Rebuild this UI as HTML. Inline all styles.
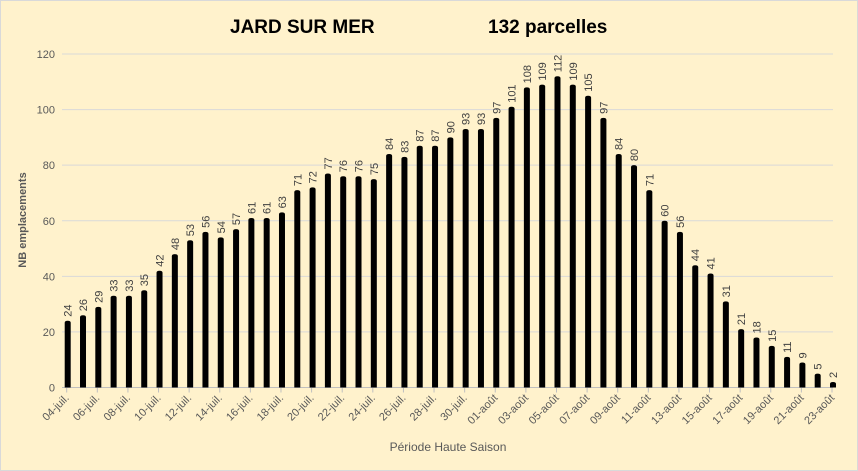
<!DOCTYPE html>
<html><head><meta charset="utf-8"><style>
body{margin:0;background:#fff2cc;}
svg{display:block;font-family:"Liberation Sans",sans-serif;}
</style></head><body>
<svg id="c" width="858" height="471" viewBox="0 0 858 471">
<rect x="0.5" y="0.5" width="857" height="470" fill="#fff2cc" stroke="#d9d9d9"/>
<text x="230" y="33" font-size="19" font-weight="bold">JARD SUR MER</text>
<text x="488" y="33" font-size="19" font-weight="bold">132 parcelles</text>
<text transform="translate(26,220) rotate(-90)" text-anchor="middle" font-size="11" font-weight="bold" fill="#595959">NB emplacements</text>
<text x="448" y="451" text-anchor="middle" font-size="12" fill="#595959">Période Haute Saison</text>
<g id="grid"></g><g id="bars"></g><g id="xl"></g>
</svg>
<script>
const categories=[];
for(let d=4;d<=31;d++)categories.push(String(d).padStart(2,'0')+'-juil.');
for(let d=1;d<=23;d++)categories.push(String(d).padStart(2,'0')+'-août');
const values=[24,26,29,33,33,35,42,48,53,56,54,57,61,61,63,71,72,77,76,76,75,84,83,87,87,90,93,93,97,101,108,109,112,109,105,97,84,80,71,60,56,44,41,31,21,18,15,11,9,5,2];
const yTicks=[0,20,40,60,80,100,120];
const NS='http://www.w3.org/2000/svg';
const x0=66.7,x1=832,yBase=387.5,yTop=54;
const y=v=>yBase-(v/120)*(yBase-yTop);
const x=i=>x0+i*(x1-x0)/(categories.length-1);
function mk(t,a,p){const e=document.createElementNS(NS,t);for(const k in a)e.setAttribute(k,a[k]);p.appendChild(e);return e;}
const grid=document.getElementById('grid'),bars=document.getElementById('bars'),xl=document.getElementById('xl');
yTicks.forEach(t=>{
  const l=mk('line',{x1:62,x2:833,y1:y(t),y2:y(t),stroke:t?'#d9d9d9':'#bfbfbf','stroke-width':1},grid);
  
  
  const tx=mk('text',{x:55,y:y(t)+4,'text-anchor':'end','font-size':11,fill:'#595959'},grid);
  tx.textContent=t;
  
  
});
values.forEach((v,i)=>{
  const cx=x(i)+1,w=6,top=y(v);
  const b=mk('path',{d:`M${cx-w/2},${yBase} V${top+2} Q${cx-w/2},${top} ${cx},${top} Q${cx+w/2},${top} ${cx+w/2},${top+2} V${yBase} Z`,fill:'#000'},bars);
  
  
  const t=mk('text',{transform:`translate(${cx+4},${top-4}) rotate(-90)`,'font-size':11,fill:'#404040'},bars);
  t.textContent=v;
  
  
  if(i%2===0){
    const tk=mk('line',{x1:x(i),x2:x(i),y1:yBase,y2:yBase+5,stroke:'#bfbfbf'},xl);
    
    
    const lb=mk('text',{transform:`translate(${x(i)+3},${yBase+11}) rotate(-45)`,'text-anchor':'end','font-size':11,fill:'#595959'},xl);
    lb.textContent=categories[i];
    
    
  }
});
</script>
</body></html>
